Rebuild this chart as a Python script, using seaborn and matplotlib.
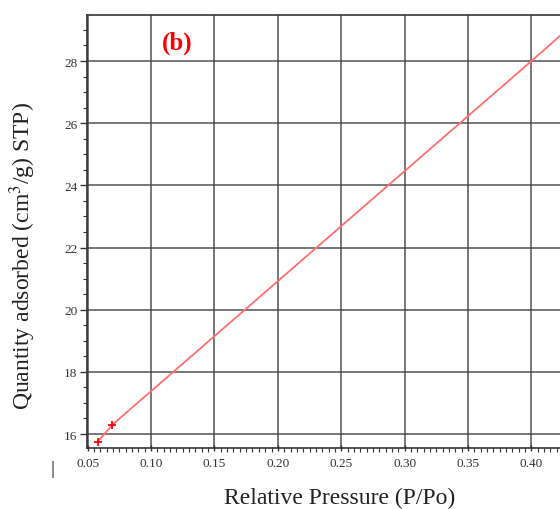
import matplotlib
matplotlib.use("Agg")
import matplotlib.pyplot as plt
import seaborn as sns
import pandas as pd
from matplotlib.ticker import MultipleLocator, FormatStrFormatter

# data
rel_pressure = [0.058, 0.069, 0.40, 0.425]
quantity = [15.75, 16.28, 28.0, 28.9]
measured_x = [0.058, 0.069]
measured_y = [15.75, 16.28]
x_ticks = [0.05, 0.10, 0.15, 0.20, 0.25, 0.30, 0.35, 0.40]
y_ticks = [16, 18, 20, 22, 24, 26, 28]

sns.set_style("ticks")
plt.rcParams['font.family'] = ['Liberation Serif', 'DejaVu Serif']
plt.rcParams['mathtext.fontset'] = 'stix'

df_line = pd.DataFrame({"x": rel_pressure, "y": quantity})
df_pts = pd.DataFrame({"x": measured_x, "y": measured_y})

fig = plt.figure(figsize=(5.6, 5.1), dpi=100)
ax = fig.add_axes([87/560, 1 - 449/510, (560 - 87)/560, (449 - 16)/510])

sns.lineplot(data=df_line, x="x", y="y", ax=ax, color="#ff6f6f", lw=1.3, zorder=3)
sns.scatterplot(data=df_pts, x="x", y="y", ax=ax, marker="+", color="red", s=30,
                linewidth=1.3, zorder=4)

ax.set_xlim(0.0495, 0.4225)
ax.set_ylim(15.55, 29.48)
ax.set_xticks(x_ticks)
ax.set_yticks(y_ticks)
ax.xaxis.set_major_formatter(FormatStrFormatter('%.2f'))
ax.xaxis.set_minor_locator(MultipleLocator(0.005))
ax.yaxis.set_minor_locator(MultipleLocator(0.5))
ax.grid(True, which='major', color='#444444', lw=1.2, alpha=0.85)
ax.tick_params(axis='both', which='major', labelsize=9.5, length=5, width=1,
               color='#333333', labelcolor='#333333', pad=2)
ax.tick_params(axis='both', which='minor', length=3, width=0.8, color='#333333')
ax.tick_params(axis='x', direction='inout', pad=4)
ax.spines['right'].set_visible(False)
for s in ['left', 'top', 'bottom']:
    ax.spines[s].set_color('#333333')
    ax.spines[s].set_linewidth(1.2)

ax.set_xlabel("Relative Pressure (P/Po)", fontsize=17, color='#222222')
ax.set_ylabel("Quantity adsorbed (cm$^3$/g) STP)", fontsize=17, color='#222222')
ax.xaxis.set_label_coords((340 - 87) / 473, -(498 - 449) / 433)
ax.xaxis.label.set_va('center')
ax.yaxis.set_label_coords((23 - 87) / 473, (449 - 256) / 433)
ax.yaxis.label.set_va('center')
ax.text((177 - 87) / 473, (449 - 43) / 433, "(b)", transform=ax.transAxes, color='red',
        fontsize=18, fontweight='bold', ha='center', va='center')
fig.text(52/560, 1 - 470/510, "|", fontsize=14, ha='center', va='center', color='#222222')

fig.savefig("out.png", dpi=100)
